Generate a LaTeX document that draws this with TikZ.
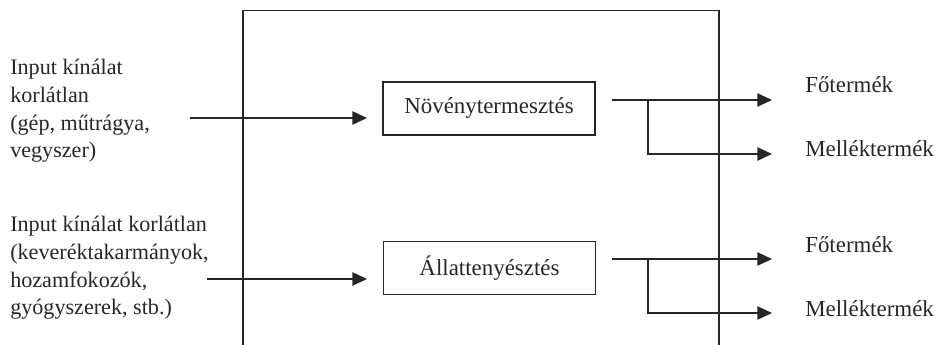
\documentclass[tikz,border=0pt]{standalone}
\usepackage{fontspec}
\setmainfont{Liberation Serif}
\usetikzlibrary{arrows.meta}
\begin{document}
\begin{tikzpicture}[x=0.75pt,y=-0.75pt,
  ln/.style={line width=1.1pt, draw=black!85},
  arr/.style={ln,-{Triangle[length=11pt,width=10pt]}},
  procbox/.style={draw=black!85,line width=1.1pt,minimum width=159pt,minimum height=39.75pt,inner sep=0pt,text=black!85,font=\fontsize{17.2}{21}\selectfont},
  lbl/.style={inner sep=0pt,anchor=base west,align=left,text=black!85,font=\fontsize{17.2}{20.8}\selectfont},
  inlbl/.style={lbl,font=\fontsize{16.6}{20.8}\selectfont}]
\useasboundingbox (0,0) rectangle (939,345);
% outer frame (open at the bottom)
\coordinate (fbl) at (243,345);
\coordinate (ftl) at (243,10.5);
\coordinate (ftr) at (719,10.5);
\coordinate (fbr) at (719,345);
\draw[ln] (fbl) -- (ftl) -- (ftr) -- (fbr);
% process boxes
\node[procbox] (nov) at (489,108.5) {Növénytermesztés};
\node[procbox] (all) at (489.5,268) {Állattenyésztés};
% input labels (base anchor = baseline of last line)
\node[inlbl] (in1) at (10,158) {Input kínálat\\korlátlan\\(gép, műtrágya,\\vegyszer)};
\node[inlbl] (in2) at (10,315) {Input kínálat korlátlan\\(keveréktakarmányok,\\hozamfokozók,\\gyógyszerek, stb.)};
% input arrows
\coordinate (a1s) at (190,118);
\coordinate (a1e) at (367,118);
\coordinate (a2s) at (207,279);
\coordinate (a2e) at (367,279);
\draw[arr] (a1s) -- (a1e);
\draw[arr] (a2s) -- (a2e);
% outputs 1
\coordinate (o1s) at (612,100);
\coordinate (o1b) at (648,100);
\coordinate (o1t) at (772,100);
\coordinate (o1m) at (772,154);
\draw[arr] (o1s) -- (o1t);
\draw[arr] (o1b) |- (o1m);
% outputs 2
\coordinate (o2s) at (612,259);
\coordinate (o2b) at (648,259);
\coordinate (o2t) at (772,259);
\coordinate (o2m) at (772,313);
\draw[arr] (o2s) -- (o2t);
\draw[arr] (o2b) |- (o2m);
% output labels
\node[lbl] (f1) at (805,93) {Főtermék};
\node[lbl] (m1) at (805,157) {Melléktermék};
\node[lbl] (f2) at (805,253) {Főtermék};
\node[lbl] (m2) at (805,317) {Melléktermék};
\end{tikzpicture}
\end{document}
